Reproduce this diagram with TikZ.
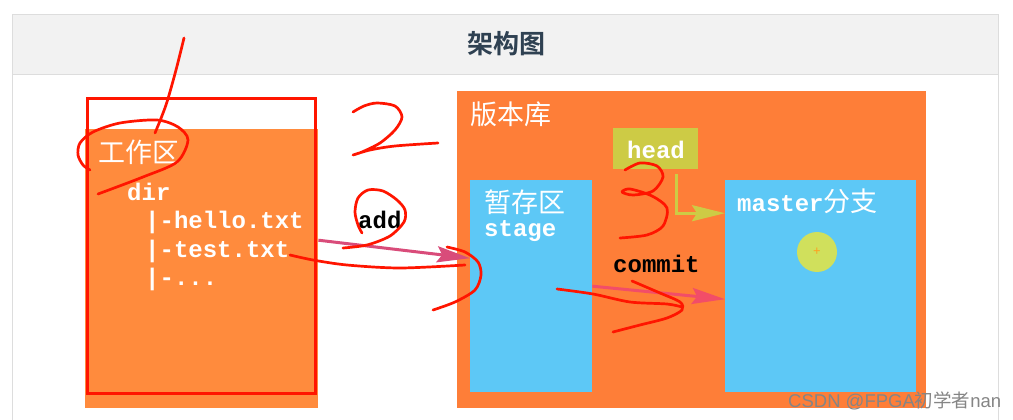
\documentclass[tikz,border=0pt]{standalone}
\usepackage{fontspec}
\setmainfont{Liberation Sans}
\newfontfamily\cjk{Noto Sans CJK SC}[BoldFont={Noto Sans CJK SC Bold}]
\newfontfamily\mono{Liberation Mono}
\usetikzlibrary{arrows.meta, positioning}
\definecolor{WorkOrange}{HTML}{FF8B3D}
\definecolor{RepoOrange}{HTML}{FE7E38}
\definecolor{AreaBlue}{HTML}{5DC8F6}
\definecolor{HeadOlive}{HTML}{CDCB45}
\definecolor{DotGreen}{HTML}{D0E05C}
\definecolor{PlusOrange}{HTML}{FFA020}
\definecolor{AddPink}{HTML}{D94C7A}
\definecolor{CommitRed}{HTML}{F24D68}
\definecolor{PenRed}{HTML}{FF1500}
\definecolor{TitleSlate}{HTML}{2F4152}
\definecolor{PanelGray}{HTML}{F2F2F2}
\definecolor{PanelLine}{HTML}{DDDDDD}
\definecolor{MarkGray}{HTML}{858585}

\tikzset{
  area/.style={anchor=north west, inner sep=0pt},
  cjklabel/.style={text=white, font=\cjk\fontsize{27}{27}\selectfont, anchor=west, inner sep=0pt},
  monolabel/.style={text=white, font=\mono\bfseries\fontsize{24}{24}\selectfont, anchor=base west, inner sep=0pt},
  flowlabel/.style={text=black, font=\mono\bfseries\fontsize{24}{24}\selectfont, anchor=base west, inner sep=0pt},
  flow/.style={-{Stealth[length=33pt, width=16pt, inset=5pt]}, line width=3pt},
  pen/.style={PenRed, line width=2.7pt, line cap=round, line join=round},
}

\begin{document}
\begin{tikzpicture}[x=1pt, y=-1pt]
    \useasboundingbox (0,0) rectangle (1013,420);
    % Panel
    \fill[white] (0,0) rectangle (1013,420);
    \fill[PanelGray] (12,14) rectangle (998,74);
    \draw[PanelLine] (12,420) -- (12,14) -- (998,14) -- (998,420);
    \draw[PanelLine] (12,74) -- (998,74);
    \node[font=\cjk\bfseries\fontsize{26}{26}\selectfont, text=TitleSlate] (title) at (506,44) {架构图};

    % Working area
    \node[area, fill=WorkOrange, minimum width=233pt, minimum height=279pt] (work) at (85,129) {};
    \node[cjklabel] (worklabel) at (98,152) {工作区};
    \node[monolabel] (dir) at (127,200) {dir};
    \node[monolabel] (hello) at (145,228) {|-hello.txt};
    \node[monolabel] (test) at (145,257) {|-test.txt};
    \node[monolabel] (more) at (145,285) {|-...};

    % Repository
    \node[area, fill=RepoOrange, minimum width=469pt, minimum height=317pt] (repo) at (457,91) {};
    \node[cjklabel] (repolabel) at (470,114) {版本库};
    \node[area, fill=HeadOlive, minimum width=85pt, minimum height=41pt] (head) at (613,128) {};
    \node[monolabel] (headlabel) at (627,158) {head};
    \node[area, fill=AreaBlue, minimum width=122pt, minimum height=212pt] (stage) at (470,180) {};
    \node[cjklabel] (stagelabel) at (484,202) {暂存区};
    \node[monolabel] (stagename) at (484,236) {stage};
    \node[area, fill=AreaBlue, minimum width=191pt, minimum height=212pt] (master) at (725,180) {};
    \node[monolabel] (masterlabel) at (737,211) {master{\cjk\mdseries\fontsize{27}{27}\selectfont 分支}};
    \node[circle, fill=DotGreen, minimum size=40pt, inner sep=0pt] (dot) at (817,252) {};
    \node[text=PlusOrange, font=\fontsize{13}{13}\selectfont, inner sep=0pt] (plus) at (dot) {+};

    % Flows
    \draw[flow, AddPink] ([yshift=28.5pt]work.east) -- ([yshift=28pt]stage.west);
    \node[flowlabel] (addlabel) at (358,228) {add};
    \draw[flow, CommitRed] (stage.east) -- ([yshift=-13pt]master.west);
    \node[flowlabel] (commitlabel) at (613,272) {commit};
    \draw[flow, HeadOlive, shorten <=5pt] ([xshift=20.5pt]head.south) |- ([yshift=73pt]master.west);

    % Pen marks
    \draw[PenRed, line width=3pt] (87,99) rectangle (315,393);
    \draw[pen] plot[smooth] coordinates {(184,38) (176,70) (166,105) (155,133)};
    \draw[pen] plot[smooth] coordinates {(98,194) (143,177) (177,162) (188,140) (178,127) (157,120) (120,123) (93,132) (80,143) (78,155) (83,165) (90,170)};
    \draw[pen] plot[smooth] coordinates {(353,112) (364,106) (377,103) (395,106) (402,117) (395,130) (380,143) (362,152) (353,155) (370,150) (395,146) (438,143)};
    \draw[pen] plot[smooth] coordinates {(343,248) (367,245) (390,236) (404,222) (405,210) (397,200) (383,191) (368,190) (358,198) (355,212) (358,225) (362,233)};
    \draw[pen] plot[smooth] coordinates {(290,255) (313,260) (347,265) (400,268) (465,265)};
    \draw[pen] plot[smooth] coordinates {(447,247) (465,252) (478,262) (481,275) (475,290) (455,302) (433,310)};
    \draw[pen] plot[smooth] coordinates {(625,170) (640,163) (657,166) (663,177) (653,191) (633,195) (622,192) (630,189) (652,196) (667,208) (663,226) (647,235) (620,238)};
    \draw[pen] plot[smooth] coordinates {(557,289) (593,294) (630,302) (667,304) (682,307)};
    \draw[pen] plot[smooth] coordinates {(632,281) (660,293) (680,302) (682,310) (667,318) (640,325) (613,332)};

    % Watermark
    \node[anchor=base west, text=MarkGray, font=\fontsize{18.5}{18.5}\selectfont, inner sep=0pt] (mark) at (788,407) {CSDN @FPGA{\cjk 初学者}nan};
\end{tikzpicture}
\end{document}
